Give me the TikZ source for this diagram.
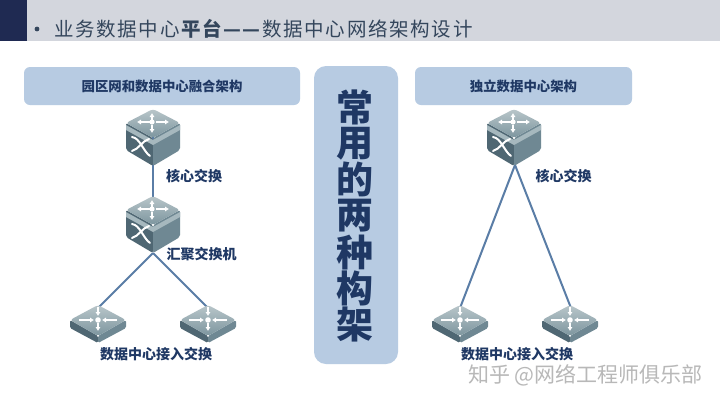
\documentclass[tikz,border=0pt]{standalone}
\usepackage{fontspec}
\setmainfont{Noto Sans CJK SC}
\newfontfamily\titlefont[LetterSpace=8.6]{Noto Sans CJK SC}
\usetikzlibrary{arrows.meta,calc}
\definecolor{hdr}{HTML}{D3D6DD}
\definecolor{navy}{HTML}{1F2A52}
\definecolor{panel}{HTML}{B7CBE2}
\definecolor{ink}{HTML}{1F3864}
\definecolor{titleink}{HTML}{34465C}
\definecolor{linkc}{HTML}{5A7DA6}
\definecolor{topA}{HTML}{B9C6CA}
\definecolor{topB}{HTML}{7C959E}
\definecolor{sideL}{HTML}{4F6773}
\definecolor{sideR}{HTML}{6F8893}
\definecolor{lip}{HTML}{A6B8BE}
\tikzset{
  x=1pt,y=-1pt,
  anchorpt/.style={inner sep=0pt,minimum size=0pt},
  panelbox/.style={fill=panel,draw=none,rounded corners=6pt},
  paneltext/.style={text=ink,font=\fontsize{13.4}{14}\selectfont\bfseries,inner sep=0pt},
  devlabel/.style={text=ink,font=\fontsize{14}{15}\selectfont\bfseries,inner sep=0pt},
  bigchar/.style={text=ink,font=\fontsize{37}{37}\selectfont\bfseries,inner sep=0pt},
  link/.style={draw=linkc,line width=2pt},
  glyph/.style={draw=white,line width=2pt,-{Latex[length=4pt,width=5.4pt]}},
  coreswitch/.pic={
    \fill[sideL,rounded corners=2pt] (-27,0) -- (0,15) -- (0,43) -- (-27,27) -- cycle;
    \fill[sideR,rounded corners=2pt] (27,0) -- (0,15) -- (0,43) -- (27,27) -- cycle;
    \fill[lip] (-27,2) -- (0,17) -- (27,2) -- (27,7) -- (0,22) -- (-27,7) -- cycle;
    \shade[top color=topA,bottom color=topB,rounded corners=3pt] (0,-14) -- (27,0) -- (0,15) -- (-27,0) -- cycle;
    \draw[glyph] (-3,-1) -- (-16,-1);
    \draw[glyph] (3,-1) -- (16,-1);
    \draw[glyph] (-1,-3) -- (-1,-10);
    \draw[glyph] (-1,2) -- (-1,10);
    \fill[white] (-1,-1) circle (2.6pt);
    \draw[white,line width=2pt,line cap=round] (-21,14) .. controls (-13,15) and (-10,28) .. (-3,33);
    \draw[white,line width=2pt,line cap=round] (-21,28) .. controls (-14,26) and (-11,18) .. (-4,16);
  },
  accessswitch/.pic={
    \fill[sideL,rounded corners=1.5pt] (-28,0) -- (0,16) -- (0,23) -- (-28,8) -- cycle;
    \fill[sideR,rounded corners=1.5pt] (28,0) -- (0,16) -- (0,23) -- (28,8) -- cycle;
    \shade[top color=topA,bottom color=topB,rounded corners=3pt] (0,-15) -- (28,0) -- (0,16) -- (-28,0) -- cycle;
    \draw[glyph] (-19,0) -- (-4,0);
    \draw[glyph] (19,0) -- (4,0);
    \draw[glyph] (0,-13) -- (0,-4);
    \draw[glyph] (0,3) -- (0,11);
    \fill[white] (0,0) circle (2.8pt);
  }
}
\begin{document}
\begin{tikzpicture}
\useasboundingbox (0,0) rectangle (720,405);
\fill[white] (0,0) rectangle (720,405);
% header
\fill[hdr] (27,0) rectangle (720,41);
\fill[navy] (0,0) rectangle (27,41);
\fill[titleink] (37,29) circle (2.4pt);
\node[anchor=west,inner sep=0pt,text=titleink,font=\fontsize{19.5}{20}\selectfont\titlefont] (title) at (54,29) {业务数据中心\textbf{平台—\kern1.5pt—}数据中心网络架构设计};
% panels
\node[panelbox,minimum width=276pt,minimum height=38pt,inner sep=0pt] (leftp) at (162,86) {};
\node[paneltext] at (leftp.center) {园区网和数据中心融合架构};
\node[panelbox,minimum width=217pt,minimum height=38pt,inner sep=0pt] (rightp) at (523.5,86) {};
\node[paneltext] at (rightp.center) {独立数据中心架构};
\node[fill=panel,rounded corners=12pt,minimum width=84pt,minimum height=298pt,inner sep=0pt] (midp) at (356,215) {};
\foreach \c [count=\i from 0] in {常,用,的,两,种,构,架} {
  \node[bigchar] (big\i) at (355,{107+\i*36.3}) {\c};
}
% anchors
\node[anchorpt] (core1) at (153,123) {};
\node[anchorpt] (agg) at (153,210) {};
\node[anchorpt] (acc1) at (98,320) {};
\node[anchorpt] (acc2) at (208,320) {};
\node[anchorpt] (core2) at (514,123) {};
\node[anchorpt] (acc3) at (460,320) {};
\node[anchorpt] (acc4) at (570,320) {};
\coordinate (aggfoot) at (153,253);
\coordinate (corefoot) at (515,165);
% links
\draw[link] (core1) -- (agg);
\draw[link] (aggfoot) -- ($(acc1)+(0,-12)$);
\draw[link] (aggfoot) -- ($(acc2)+(0,-12)$);
\draw[link] (corefoot) -- ($(acc3)+(0,-12)$);
\draw[link] (corefoot) -- ($(acc4)+(1,-12)$);
% devices
\pic at (core1) {coreswitch};
\pic at (agg) {coreswitch};
\pic at (core2) {coreswitch};
\pic at (acc1) {accessswitch};
\pic at (acc2) {accessswitch};
\pic at (acc3) {accessswitch};
\pic at (acc4) {accessswitch};
% labels
\node[devlabel] (l1) at (194,176) {核心交换};
\node[devlabel] (l2) at (201.5,254) {汇聚交换机};
\node[devlabel] (l3) at (156,354) {数据中心接入交换};
\node[devlabel] (l4) at (563.5,176) {核心交换};
\node[devlabel] (l5) at (517,354) {数据中心接入交换};
% watermark
\node[anchor=east,inner sep=0pt,text=black!28,font=\fontsize{21}{22}\selectfont] (wm) at (703,375) {知乎 @网络工程师俱乐部};
\end{tikzpicture}
\end{document}
